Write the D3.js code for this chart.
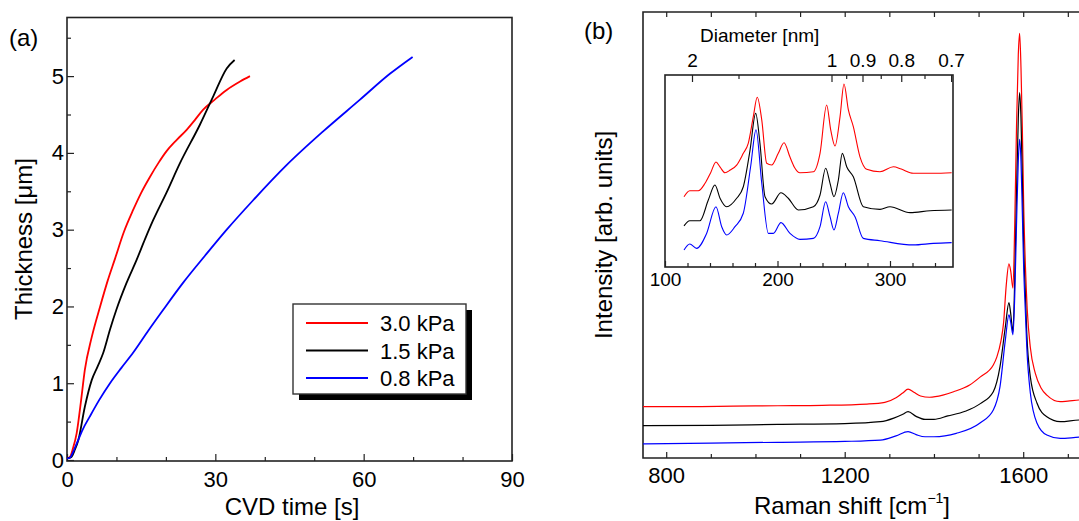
<!DOCTYPE html>
<html>
<head>
<meta charset="utf-8">
<script src="https://cdn.jsdelivr.net/npm/d3@7"></script>
<style>
  body { margin: 0; background: #fff; }
  text { font-family: "Liberation Sans", Arial, sans-serif; fill: #000; }
</style>
</head>
<body>
<div id="chart"></div>
<script>
//Series names and colours shared by both panels.
const pressures = ["3.0 kPa", "1.5 kPa", "0.8 kPa"]
const colors = ["#ff0000", "#000000", "#0000ff"]

//Panel (a): CVD time [s] vs thickness [um].
const growth30 = [[0,0.02],[0.6,0.04],[1.2,0.15],[1.96,0.35],[2.8,0.75],[3.6,1.17],[5.0,1.6],[6.7,2.0],[8.2,2.33],[9.7,2.62],[11.5,2.97],[13.4,3.26],[15,3.48],[16.8,3.69],[18.5,3.87],[20.1,4.02],[22.2,4.17],[24.2,4.30],[26,4.44],[27.5,4.56],[30,4.70],[32.3,4.82],[35,4.93],[37,5.0]]
const growth15 = [[0,0.02],[0.9,0.04],[1.5,0.12],[2.3,0.26],[3.6,0.69],[5.0,1.04],[6.2,1.22],[7.3,1.39],[8.7,1.70],[10.0,1.96],[12,2.3],[14.1,2.61],[15.8,2.88],[17.4,3.12],[20.1,3.48],[22.8,3.86],[26.9,4.37],[29.6,4.74],[32.3,5.10],[33.9,5.21]]
const growth08 = [[0,0.02],[0.6,0.03],[1.2,0.1],[2.0,0.22],[3.2,0.4],[4.6,0.565],[6.5,0.78],[8.7,1.0],[11,1.2],[13.4,1.40],[16.5,1.69],[19.5,1.96],[23.5,2.31],[27.9,2.66],[32.3,3.0],[37.6,3.38],[44.4,3.84],[51.8,4.28],[59.2,4.69],[65.3,5.03],[69.9,5.25]]

const timeTicks = [0, 30, 60, 90]
const timeMinor = [10, 20, 40, 50, 70, 80]
const thickTicks = [0, 1, 2, 3, 4, 5]
const thickMinor = [0.5, 1.5, 2.5, 3.5, 4.5, 5.5]

//Panel (b): Raman shift [cm-1] vs intensity [arb. units].
const ramanRed = [[746,0.121],[850,0.121],[950,0.122],[1050,0.123],[1150,0.124],[1250,0.127],[1290,0.131],[1315,0.142],[1330,0.153],[1342,0.162],[1355,0.155],[1370,0.146],[1390,0.143],[1420,0.148],[1444,0.156],[1480,0.172],[1504,0.191],[1533,0.219],[1541,0.238],[1550,0.275],[1556,0.318],[1562,0.407],[1568,0.457],[1572,0.44],[1577,0.40],[1581,0.55],[1585,0.78],[1589,0.95],[1592,1.0],[1595,0.92],[1598,0.78],[1601,0.60],[1605,0.45],[1609,0.35],[1616,0.26],[1627,0.20],[1640,0.165],[1653,0.148],[1683,0.1325],[1700,0.134],[1725,0.1365],[1760,0.138]]
const ramanBlack = [[746,0.076],[900,0.077],[1050,0.079],[1200,0.081],[1280,0.0855],[1310,0.094],[1330,0.103],[1342,0.109],[1360,0.098],[1380,0.091],[1400,0.091],[1431,0.099],[1470,0.11],[1504,0.128],[1533,0.156],[1548,0.215],[1560,0.309],[1568,0.366],[1572,0.34],[1577,0.297],[1581,0.42],[1585,0.62],[1589,0.80],[1592,0.86],[1595,0.80],[1598,0.66],[1601,0.50],[1605,0.38],[1608,0.294],[1616,0.191],[1631,0.129],[1653,0.097],[1683,0.0855],[1725,0.0895],[1760,0.09]]
const ramanBlue = [[746,0.033],[900,0.035],[1050,0.037],[1200,0.039],[1280,0.042],[1315,0.052],[1342,0.062],[1360,0.055],[1380,0.05],[1400,0.05],[1450,0.058],[1504,0.083],[1533,0.113],[1548,0.168],[1560,0.278],[1568,0.337],[1572,0.32],[1577,0.29],[1581,0.38],[1585,0.55],[1589,0.70],[1592,0.75],[1595,0.70],[1598,0.58],[1601,0.45],[1605,0.34],[1608,0.262],[1616,0.153],[1631,0.082],[1653,0.054],[1683,0.046],[1725,0.049],[1760,0.05]]

const ramanTicks = [800, 1200, 1600]
const ramanMinor = [900, 1000, 1100, 1300, 1400, 1500, 1700]

//Inset: radial breathing mode region.
const rbmRed = [[116.9,0.366],[122,0.397],[129.6,0.397],[135.6,0.436],[140.5,0.49],[145.3,0.547],[149,0.52],[153.3,0.491],[158,0.505],[163.7,0.531],[169.6,0.592],[174,0.644],[178.5,0.783],[182,0.884],[186,0.766],[190.4,0.540],[194.8,0.531],[200.7,0.592],[205.8,0.647],[211,0.574],[215,0.52],[220,0.491],[231.9,0.496],[237.8,0.592],[243.7,0.844],[247.3,0.714],[251.1,0.630],[255.6,0.783],[259.1,0.953],[263,0.818],[267.4,0.731],[273.3,0.574],[279.3,0.509],[291.1,0.496],[303,0.522],[310,0.51],[320.7,0.488],[338.5,0.488],[354.8,0.491]]
const rbmBlack = [[116.9,0.214],[122,0.241],[131.1,0.241],[138.5,0.349],[144.4,0.427],[148.9,0.358],[154.8,0.314],[163.7,0.358],[169.6,0.418],[175.6,0.609],[180.6,0.800],[184.4,0.644],[188.9,0.366],[194.8,0.328],[203.1,0.387],[209.6,0.358],[218.5,0.297],[231.9,0.314],[237.8,0.375],[242.8,0.514],[246.7,0.436],[250.2,0.366],[254.1,0.453],[257.6,0.592],[261.5,0.522],[267.4,0.470],[276.3,0.314],[291.1,0.300],[300,0.314],[317.8,0.283],[335.6,0.293],[354.8,0.297]]
const rbmBlue = [[116.9,0.0885],[122,0.120],[128.1,0.097],[137,0.175],[145.3,0.314],[150.4,0.210],[154.8,0.167],[162.2,0.210],[169.6,0.280],[176.1,0.522],[180.9,0.714],[186,0.436],[191.9,0.175],[196.3,0.175],[203.1,0.231],[211.1,0.175],[220,0.144],[231.9,0.149],[237.8,0.210],[242.8,0.340],[246.7,0.262],[250.2,0.193],[254.1,0.280],[258.5,0.387],[263,0.314],[268.9,0.262],[276.3,0.149],[291.1,0.137],[320.7,0.115],[338.5,0.123],[354.8,0.127]]

const rbmTicks = [100, 200, 300]
const rbmMinor = [120, 140, 160, 180, 220, 240, 260, 280, 320, 340]
const diamTicks = [2, 1, 0.9, 0.8, 0.7]
const diamMinor = [1.5, 0.95, 0.85, 0.75]
//RBM frequency [cm-1] = 248 / diameter [nm]
const rbmConst = 248

const svg = d3.select("#chart")
              .append("svg")
              .attr("width", 1079)
              .attr("height", 521)

const frameColor = "#222"
const intFmt = d3.format("d")

//---------- Panel (a) ----------
const xA = d3.scaleLinear().domain([0, 90]).range([67, 512])
const yA = d3.scaleLinear().domain([0, 5.77]).range([460, 17])

svg.append("g")
   .attr("transform", "translate(0,461)")
   .call(d3.axisBottom(xA).tickValues(timeTicks).tickFormat(intFmt).tickSize(-7).tickPadding(10))
   .call(g => g.selectAll("text").attr("font-size", 22))
svg.append("g")
   .attr("transform", "translate(0,461)")
   .call(d3.axisBottom(xA).tickValues(timeMinor).tickSize(-4).tickFormat(""))
svg.append("g")
   .attr("transform", "translate(67,0)")
   .call(d3.axisLeft(yA).tickValues(thickTicks).tickFormat(intFmt).tickSize(-7).tickPadding(3))
   .call(g => g.selectAll("text").attr("font-size", 22))
svg.append("g")
   .attr("transform", "translate(67,0)")
   .call(d3.axisLeft(yA).tickValues(thickMinor).tickSize(-4).tickFormat(""))

svg.selectAll(".domain").remove()
svg.selectAll(".tick line").attr("stroke", frameColor).attr("stroke-width", 1.2)

svg.append("rect")
   .attr("x", 67).attr("y", 17.5).attr("width", 445).attr("height", 443.5)
   .attr("fill", "none").attr("stroke", frameColor).attr("stroke-width", 1.6)

const lineA = d3.line().x(d => xA(d[0])).y(d => yA(d[1])).curve(d3.curveMonotoneX)
const growth = [growth30, growth15, growth08]
svg.append("g").selectAll("path")
   .data(growth)
   .enter()
   .append("path")
   .attr("d", lineA)
   .attr("fill", "none")
   .attr("stroke", (d, i) => colors[i])
   .attr("stroke-width", 1.8)

//Legend box with drop shadow.
const legend = svg.append("g").attr("transform", "translate(293,304)")
legend.append("rect").attr("x", 6).attr("y", 6).attr("width", 173).attr("height", 90).attr("fill", "#000")
legend.append("rect").attr("width", 173).attr("height", 90).attr("fill", "#fff")
      .attr("stroke", "#333").attr("stroke-width", 1.4)
pressures.forEach((p, i) => {
  legend.append("line")
        .attr("x1", 13).attr("x2", 75)
        .attr("y1", 19 + i * 27.5).attr("y2", 19 + i * 27.5)
        .attr("stroke", colors[i]).attr("stroke-width", 2)
  legend.append("text")
        .attr("x", 87).attr("y", 27 + i * 27.5)
        .attr("font-size", 22)
        .text(p)
})

//Axis titles and panel label.
svg.append("text").attr("x", 292).attr("y", 515).attr("text-anchor", "middle")
   .attr("font-size", 24).text("CVD time [s]")
svg.append("text").attr("transform", "translate(32,239) rotate(-90)").attr("text-anchor", "middle")
   .attr("font-size", 24).text("Thickness [\u03bcm]")
svg.append("text").attr("x", 9).attr("y", 46).attr("font-size", 24).text("(a)")

//---------- Panel (b) ----------
const xB = d3.scaleLinear().domain([748, 1760]).range([643, 643 + 1012 * 0.44625])
const yB = d3.scaleLinear().domain([0, 1.05]).range([458, 12])

const gB = svg.append("g")
gB.append("g")
  .attr("transform", "translate(0,458)")
  .call(d3.axisBottom(xB).tickValues(ramanTicks).tickFormat(intFmt).tickSize(-6).tickPadding(9))
  .call(g => g.selectAll("text").attr("font-size", 22))
gB.append("g")
  .attr("transform", "translate(0,458)")
  .call(d3.axisBottom(xB).tickValues(ramanMinor).tickSize(-4).tickFormat(""))
gB.append("g")
  .attr("transform", "translate(0,12)")
  .call(d3.axisTop(xB).tickValues(ramanTicks.concat(ramanMinor)).tickSize(-5).tickFormat(""))
gB.selectAll(".domain").remove()
gB.selectAll(".tick line").attr("stroke", frameColor).attr("stroke-width", 1.2)

gB.append("path")
  .attr("d", "M1100,12H643V458H1100")
  .attr("fill", "none").attr("stroke", frameColor).attr("stroke-width", 1.6)

svg.append("clipPath").attr("id", "clipB")
   .append("rect").attr("x", 643).attr("y", 12).attr("width", 460).attr("height", 446)

const lineB = d3.line().x(d => xB(d[0])).y(d => yB(d[1])).curve(d3.curveMonotoneX)
const raman = [ramanRed, ramanBlack, ramanBlue]
gB.append("g").attr("clip-path", "url(#clipB)")
  .selectAll("path")
  .data(raman)
  .enter()
  .append("path")
  .attr("d", lineB)
  .attr("fill", "none")
  .attr("stroke", (d, i) => colors[i])
  .attr("stroke-width", 1.2)

svg.append("text").attr("x", 852).attr("y", 514).attr("text-anchor", "middle")
   .attr("font-size", 24)
   .call(t => {
     t.append("tspan").text("Raman shift [cm")
     t.append("tspan").attr("font-size", 14).attr("dy", -11).text("\u22121")
     t.append("tspan").attr("dy", 11).text("]")
   })
svg.append("text").attr("transform", "translate(612,235) rotate(-90)").attr("text-anchor", "middle")
   .attr("font-size", 24).text("Intensity [arb. units]")
svg.append("text").attr("x", 584).attr("y", 39).attr("font-size", 24).text("(b)")

//---------- Inset ----------
const xI = d3.scaleLinear().domain([100, 356]).range([665, 953])
const yI = d3.scaleLinear().domain([0, 1]).range([267, 75])

const gI = svg.append("g")
gI.append("rect").attr("x", 665).attr("y", 75).attr("width", 288).attr("height", 192)
  .attr("fill", "#fff")
gI.append("g")
  .attr("transform", "translate(0,267)")
  .call(d3.axisBottom(xI).tickValues(rbmTicks).tickFormat(intFmt).tickSize(-6).tickPadding(6))
  .call(g => g.selectAll("text").attr("font-size", 19))
gI.append("g")
  .attr("transform", "translate(0,267)")
  .call(d3.axisBottom(xI).tickValues(rbmMinor).tickSize(-4).tickFormat(""))
gI.append("g")
  .attr("transform", "translate(0,75)")
  .call(d3.axisTop(xI).tickValues(diamTicks.map(d => rbmConst / d)).tickSize(-7).tickPadding(8)
          .tickFormat(w => String(+(rbmConst / w).toFixed(2))))
  .call(g => g.selectAll("text").attr("font-size", 19))
gI.append("g")
  .attr("transform", "translate(0,75)")
  .call(d3.axisTop(xI).tickValues(diamMinor.map(d => rbmConst / d)).tickSize(-4).tickFormat(""))
gI.selectAll(".domain").remove()
gI.selectAll(".tick line").attr("stroke", frameColor).attr("stroke-width", 1.2)
gI.append("rect").attr("x", 665).attr("y", 75).attr("width", 288).attr("height", 192)
  .attr("fill", "none").attr("stroke", frameColor).attr("stroke-width", 1.6)

const lineI = d3.line().x(d => xI(d[0])).y(d => yI(d[1])).curve(d3.curveMonotoneX)
const rbm = [rbmRed, rbmBlack, rbmBlue]
gI.append("g").selectAll("path")
  .data(rbm)
  .enter()
  .append("path")
  .attr("d", lineI)
  .attr("fill", "none")
  .attr("stroke", (d, i) => colors[i])
  .attr("stroke-width", 1.1)

svg.append("text").attr("x", 700).attr("y", 42).attr("font-size", 19).text("Diameter [nm]")
</script>
</body>
</html>
